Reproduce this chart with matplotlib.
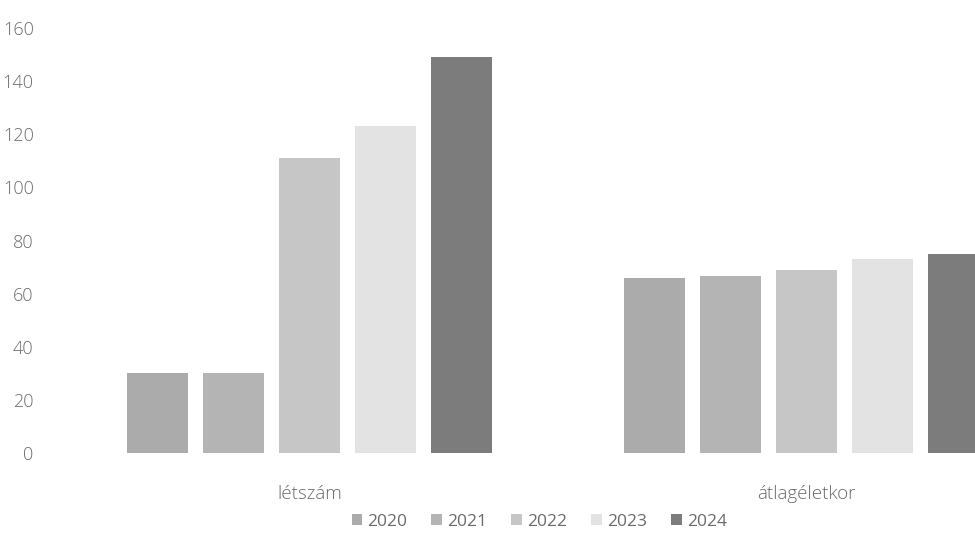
import matplotlib
matplotlib.use("Agg")
import matplotlib.pyplot as plt
import numpy as np

categories = ["létszám", "átlagéletkor"]
years = ["2020", "2021", "2022", "2023", "2024"]
values = {
    "2020": [30, 66],
    "2021": [30, 66.5],
    "2022": [111, 69],
    "2023": [123, 73],
    "2024": [149, 75],
}
yticks = [0, 20, 40, 60, 80, 100, 120, 140, 160]
colors = ["#ababab", "#b4b4b4", "#c6c6c6", "#e3e3e3", "#7c7c7c"]

plt.rcParams['font.family'] = ['Open Sans', 'DejaVu Sans']
txt = "#6a6a6a"

fig = plt.figure(figsize=(9.75, 5.53), dpi=100)
ax = fig.add_axes([0.063, 0.181, 1.019, 0.768])

stride = 0.153
width = 0.123
x = np.arange(len(categories))
for i, (y, c) in enumerate(zip(years, colors)):
    ax.bar(x + (i - 2) * stride, values[y], width=width, color=c, label=y)

ax.set_xlim(-0.5, 1.5)
ax.set_ylim(0, 160)
ax.set_yticks(yticks)
ax.set_yticklabels([str(t) for t in yticks], color=txt, fontsize=13, fontweight='light')
ax.tick_params(axis='y', length=0, pad=20)
ax.set_xticks(x)
ax.set_xticklabels(categories, color=txt, fontsize=13.5, fontweight='light')
ax.tick_params(axis='x', length=0, pad=23)
for s in ax.spines.values():
    s.set_visible(False)

leg = fig.legend(loc='center', bbox_to_anchor=(0.553, 0.056), ncol=5, frameon=False,
                 fontsize=12.5, handlelength=0.6, handleheight=0.6, handletextpad=0.3,
                 columnspacing=1.4)
for t in leg.get_texts():
    t.set_color(txt)

fig.savefig("out.png", dpi=100)
